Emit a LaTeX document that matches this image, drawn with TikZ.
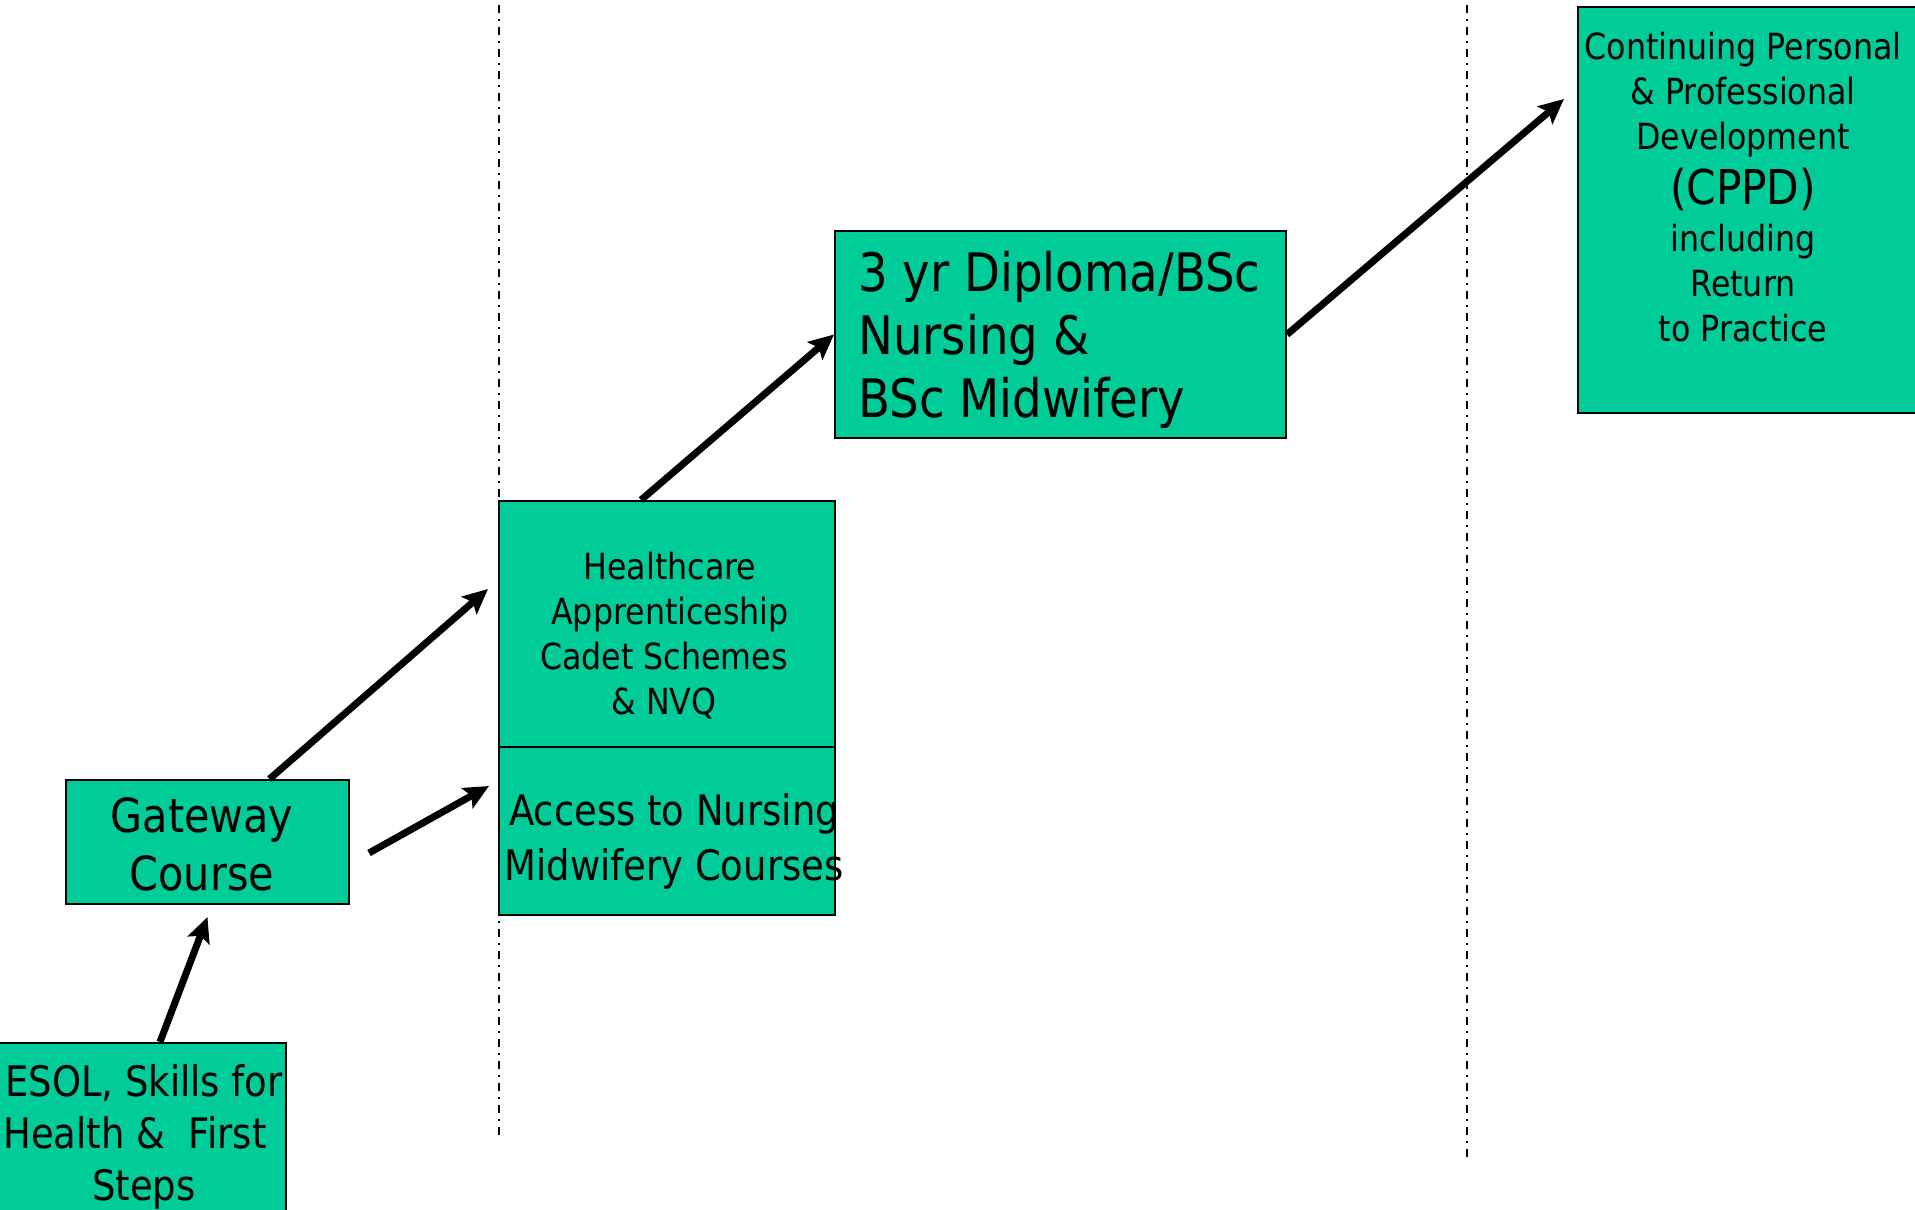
\documentclass[tikz,border=0pt]{standalone}
\usepackage{fontspec}
\setmainfont{DejaVu Sans}[FakeStretch=0.88]
\usetikzlibrary{arrows.meta}
\definecolor{boxgreen}{RGB}{0,204,153}
\newcommand{\fs}[2]{\fontsize{#1}{#2}\selectfont}

\begin{document}
\begin{tikzpicture}[x=1pt,y=-1pt,>={Stealth[length=25pt,width=23pt,inset=5pt]},
	box/.style={draw=black,line width=2pt,fill=boxgreen,inner sep=0pt},
	txt/.style={inner sep=0pt,align=center,anchor=base},
	pathway/.style={->,line width=7pt}]
	\clip (0,0) rectangle (1915,1210);
	\draw[line width=2pt,dash pattern=on 8pt off 6pt on 2pt off 6pt] (499,5)--(499,1135) (1467,5)--(1467,1157);
	\node[box,minimum width=306,minimum height=190] (esol) at (133,1138) {};
	\node[box,minimum width=283,minimum height=124] (gw) at (207.5,842) {};
	\node[box,minimum width=336,minimum height=246] (hc) at (667,624) {};
	\node[box,minimum width=336,minimum height=168] (acc) at (667,831) {};
	\node[box,minimum width=451,minimum height=207] (dip) at (1060.5,334.5) {};
	\node[box,minimum width=352,minimum height=406] (cppd) at (1754,210) {};
	% texts, anchored at the baseline of their last line
	\node[txt,font=\fs{42}{52}] (esoltxt) at (144,1200) {ESOL, Skills for\\Health \& \ First\kern18pt\\Steps};
	\node[txt,font=\fs{47}{58}] (gwtxt) at (202,890) {Gateway\\Course};
	\node[txt,font=\fs{36}{45}] (hctxt) at (670,714) {Healthcare\\Apprenticeship\\Cadet Schemes\kern12pt\\\& NVQ\kern12pt};
	\node[txt,font=\fs{42}{55}] (acctxt) at (674,880) {Access to Nursing\\Midwifery Courses};
	\node[txt,align=left,anchor=base west,font=\fs{53}{63}] (diptxt) at (858,417) {3 yr Diploma/BSc\\Nursing \&\\BSc Midwifery};
	\node[txt,font=\fs{36}{45}] (cppdtxt) at (1743,341) {Continuing Personal\\\& Professional\\Development\\[10pt]{\fs{48}{52}(CPPD)}\\[2pt]including\\Return\\to Practice};
	\draw[pathway] ([xshift=27pt]esol.north) -- ([yshift=-12pt]gw.south);
	\draw[pathway] ([xshift=62pt]gw.north) -- ([xshift=-10pt,yshift=35pt]hc.west);
	\draw[pathway] ([xshift=19pt,yshift=-11pt]gw.east) -- ([xshift=-9pt,yshift=45pt]acc.west);
	\draw[pathway] ([xshift=-26pt]hc.north) -- (dip.west);
	\draw[pathway] (dip.east) -- ([xshift=-13pt,yshift=111pt]cppd.west);
\end{tikzpicture}
\end{document}
